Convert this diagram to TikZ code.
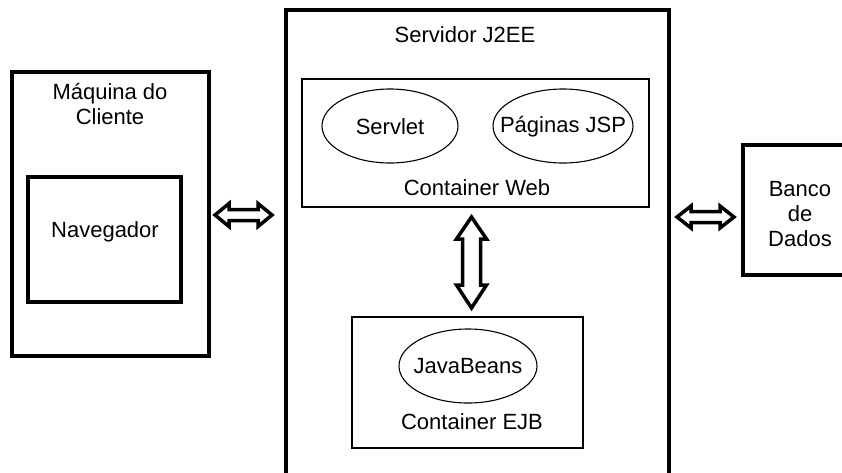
\documentclass[tikz,border=0pt]{standalone}
\usepackage{fontspec}
\setmainfont{Liberation Sans}
\usetikzlibrary{shapes.geometric,calc}

\tikzset{
  heavybox/.style={draw, line width=4pt, rectangle, inner sep=0pt},
  midbox/.style={draw, line width=3.5pt, rectangle, inner sep=0pt},
  thinbox/.style={draw, line width=1.5pt, rectangle, inner sep=0pt},
  comp/.style={draw, line width=1.1pt, ellipse, inner sep=0pt},
  lbl/.style={inner sep=0pt, align=center, font=\fontsize{22}{25}\selectfont},
  hollow/.style={draw, line width=3.5pt, line join=miter, fill=white},
}

\begin{document}
\begin{tikzpicture}[x=1pt, y=-1pt]
  \useasboundingbox (0,0) rectangle (842,472);
  \clip (0,0) rectangle (842,472);

  % client machine
  \node[heavybox, minimum width=197pt, minimum height=284pt] (client) at (110.5,214) {};
  \node[lbl] (clienttitle) at (110,104) {Máquina do\\Cliente};
  \node[midbox, minimum width=153pt, minimum height=125pt] (browser) at (104.5,239.5) {};
  \node[lbl] (browsertxt) at (105,232) {Navegador};

  % J2EE server (runs past the lower edge)
  \node[heavybox, minimum width=383pt, minimum height=500pt] (server) at (477.5,260) {};
  \node[lbl] (servertitle) at (465,35) {Servidor J2EE};

  % web container
  \node[thinbox, minimum width=347pt, minimum height=128pt] (web) at (475.5,143) {};
  \node[comp, minimum width=136pt, minimum height=74pt] (servlet) at (390,126) {};
  \node[lbl] (servlettxt) at (390,127) {Servlet};
  \node[comp, minimum width=140pt, minimum height=74pt] (jsp) at (563,126) {};
  \node[lbl] (jsptxt) at (563,127) {Páginas JSP};
  \node[lbl] (webtxt) at (477,188) {Container Web};

  % EJB container
  \node[thinbox, minimum width=231pt, minimum height=131pt] (ejb) at (467.5,382.5) {};
  \node[comp, minimum width=138pt, minimum height=74pt] (beans) at (468,366) {};
  \node[lbl] (beanstxt) at (468,366) {JavaBeans};
  \node[lbl] (ejbtxt) at (472,422) {Container EJB};

  % database
  \node[heavybox, minimum width=140pt, minimum height=130pt] (db) at (813,210) {};
  \node[lbl] (dbtxt) at (800,214) {Banco\\de\\Dados};

  % hollow double arrows between the tiers
  \coordinate (la) at (215,215);
  \coordinate (lb) at (272,215);
  \draw[hollow] (la) -- ($(la)+(14,-11.5)$) -- ($(la)+(14,-5.5)$) -- ($(lb)+(-14,-5.5)$)
    -- ($(lb)+(-14,-11.5)$) -- (lb) -- ($(lb)+(-14,11.5)$) -- ($(lb)+(-14,5.5)$)
    -- ($(la)+(14,5.5)$) -- ($(la)+(14,11.5)$) -- cycle;

  \coordinate (ra) at (677,217);
  \coordinate (rb) at (734,217);
  \draw[hollow] (ra) -- ($(ra)+(14,-11)$) -- ($(ra)+(14,-5.5)$) -- ($(rb)+(-14,-5.5)$)
    -- ($(rb)+(-14,-11)$) -- (rb) -- ($(rb)+(-14,11)$) -- ($(rb)+(-14,5.5)$)
    -- ($(ra)+(14,5.5)$) -- ($(ra)+(14,11)$) -- cycle;

  \coordinate (va) at (471.5,217);
  \coordinate (vb) at (471.5,308);
  \draw[hollow] (va) -- ($(va)+(15,22)$) -- ($(va)+(9,22)$) -- ($(vb)+(9,-23)$)
    -- ($(vb)+(15,-23)$) -- (vb) -- ($(vb)+(-15,-23)$) -- ($(vb)+(-9,-23)$)
    -- ($(va)+(-9,22)$) -- ($(va)+(-15,22)$) -- cycle;
\end{tikzpicture}
\end{document}
